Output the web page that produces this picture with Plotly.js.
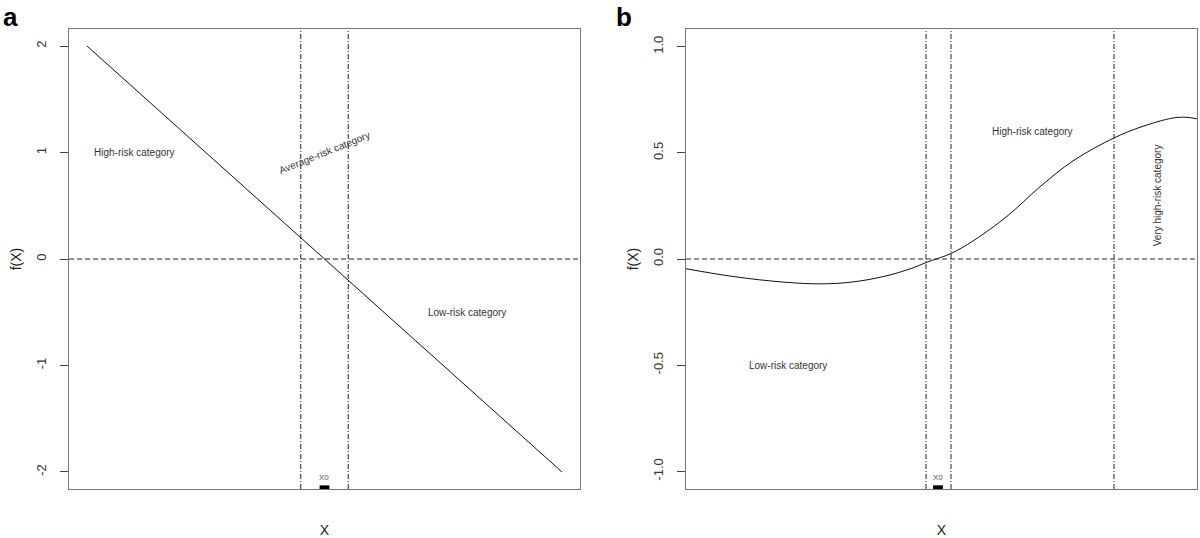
<!DOCTYPE html>
<html>
<head>
<meta charset="utf-8">
<script src="https://cdn.plot.ly/plotly-3.0.1.min.js"></script>
<style>
  body { margin: 0; background: #fff; }
  #plot { width: 1200px; height: 538px; }
</style>
</head>
<body>
<div id="plot"></div>
<script>
// panel a: linear score
const xA = [-1, 1];
const fA = [2, -2];
const cutA = [-0.1, 0.1];
const x0A = 0;
const ticksA = [-2, -1, 0, 1, 2];
const tickTextA = ['-2', '-1', '0', '1', '2'];

// panel b: non-linear score
const xB = [-2.52, -2.04, -1.54, -1.17, -0.87, -0.54, -0.27, -0.11, 0.13, 0.35, 0.69, 1.02, 1.35, 1.76, 2.02, 2.35, 2.49, 2.59];
const fB = [-0.046, -0.083, -0.109, -0.117, -0.109, -0.082, -0.045, -0.015, 0.026, 0.085, 0.201, 0.340, 0.462, 0.570, 0.620, 0.664, 0.667, 0.660];
const cutB = [-0.12, 0.13, 1.76];
const x0B = 0;
const ticksB = [-1, -0.5, 0, 0.5, 1];
const tickTextB = ['-1.0', '-0.5', '0.0', '0.5', '1.0'];

const labelsA = [
    { x: -0.8, y: 1, text: 'High-risk category', angle: 0 },
    { x: 0, y: 1, text: 'Average-risk category', angle: -22 },
    { x: 0.6, y: -0.5, text: 'Low-risk category', angle: 0 }
];
const labelsB = [
    { x: 0.94, y: 0.6, text: 'High-risk category', angle: 0 },
    { x: -1.5, y: -0.5, text: 'Low-risk category', angle: 0 },
    { x: 2.19, y: 0.3, text: 'Very high-risk category', angle: -90 }
];

const rangeA = [-2.16, 2.16];
const rangeB = [-1.083, 1.083];

const font = 'Liberation Sans, Arial, sans-serif';

const data = [
    { x: xA, y: fA, xaxis: 'x', yaxis: 'y', mode: 'lines', line: { color: '#111', width: 1 } },
    { x: xB, y: fB, xaxis: 'x2', yaxis: 'y2', mode: 'lines', line: { color: '#111', width: 1, shape: 'spline', smoothing: 1 } },
    {
        x: [x0A], y: [rangeA[0] + 0.015], xaxis: 'x', yaxis: 'y', mode: 'markers', cliponaxis: false,
        marker: { symbol: 'line-ew', size: 7, line: { width: 4, color: '#000' } }
    },
    {
        x: [x0B], y: [rangeB[0] + 0.008], xaxis: 'x2', yaxis: 'y2', mode: 'markers', cliponaxis: false,
        marker: { symbol: 'line-ew', size: 7, line: { width: 4, color: '#000' } }
    }
];

const shapes = [];
cutA.forEach(c => shapes.push({
    type: 'line', xref: 'x', yref: 'y domain', x0: c, x1: c, y0: 0, y1: 1,
    line: { color: '#222', width: 1, dash: '5px,2px,1px,2px' }
}));
cutB.forEach(c => shapes.push({
    type: 'line', xref: 'x2', yref: 'y2 domain', x0: c, x1: c, y0: 0, y1: 1,
    line: { color: '#222', width: 1, dash: '5px,2px,1px,2px' }
}));
shapes.push({ type: 'line', xref: 'x domain', yref: 'y', x0: 0, x1: 1, y0: 0, y1: 0,
    line: { color: '#222', width: 1, dash: '5px,3px' } });
shapes.push({ type: 'line', xref: 'x2 domain', yref: 'y2', x0: 0, x1: 1, y0: 0, y1: 0,
    line: { color: '#222', width: 1, dash: '5px,3px' } });

const annotations = [];
labelsA.forEach(l => annotations.push({
    xref: 'x', yref: 'y', x: l.x, y: l.y, text: l.text, textangle: l.angle, showarrow: false,
    font: { family: font, size: 10, color: '#333' }
}));
labelsB.forEach(l => annotations.push({
    xref: 'x2', yref: 'y2', x: l.x, y: l.y, text: l.text, textangle: l.angle, showarrow: false,
    font: { family: font, size: 10, color: '#333' }
}));
annotations.push({ xref: 'x', yref: 'y', x: x0A, y: rangeA[0] + 0.05, yanchor: 'bottom', text: 'X0',
    showarrow: false, font: { family: font, size: 8, color: '#555' } });
annotations.push({ xref: 'x2', yref: 'y2', x: x0B, y: rangeB[0] + 0.025, yanchor: 'bottom', text: 'X0',
    showarrow: false, font: { family: font, size: 8, color: '#555' } });
annotations.push({ xref: 'paper', yref: 'paper', x: -0.0603, y: 1.063, xanchor: 'left', yanchor: 'top',
    text: '<b>a</b>', showarrow: false, font: { family: font, size: 26, color: '#000' } });
annotations.push({ xref: 'paper', yref: 'paper', x: 0.4832, y: 1.063, xanchor: 'left', yanchor: 'top',
    text: '<b>b</b>', showarrow: false, font: { family: font, size: 26, color: '#000' } });

function xAxis(domain, range) {
    return {
        domain: domain, range: range, showticklabels: false, ticks: '', showgrid: false, zeroline: false,
        showline: true, mirror: true, linecolor: '#777', linewidth: 1,
        title: { text: 'X', font: { family: font, size: 14, color: '#222' }, standoff: 38 }
    };
}
function yAxis(range, vals, texts) {
    return {
        range: range, tickvals: vals, ticktext: texts, ticks: 'outside', ticklen: 8, tickcolor: '#444',
        tickangle: -90, ticklabelstandoff: 9, showgrid: false, zeroline: false,
        showline: true, mirror: true, linecolor: '#777', linewidth: 1,
        tickfont: { family: font, size: 13, color: '#333' },
        title: { text: 'f(X)', font: { family: font, size: 14, color: '#222' }, standoff: 8 }
    };
}

const layout = {
    width: 1200, height: 538,
    margin: { l: 69, r: 3, t: 29, b: 49 },
    showlegend: false,
    paper_bgcolor: '#fff', plot_bgcolor: '#fff',
    xaxis: Object.assign(xAxis([0, 0.453], [-1.076, 1.076]), { anchor: 'y' }),
    yaxis: Object.assign(yAxis(rangeA, ticksA, tickTextA), { anchor: 'x' }),
    xaxis2: Object.assign(xAxis([0.547, 1], [-2.52, 2.59]), { anchor: 'y2' }),
    yaxis2: Object.assign(yAxis(rangeB, ticksB, tickTextB), { anchor: 'x2' }),
    shapes: shapes,
    annotations: annotations
};

Plotly.newPlot('plot', data, layout, { staticPlot: true });
</script>
</body>
</html>
